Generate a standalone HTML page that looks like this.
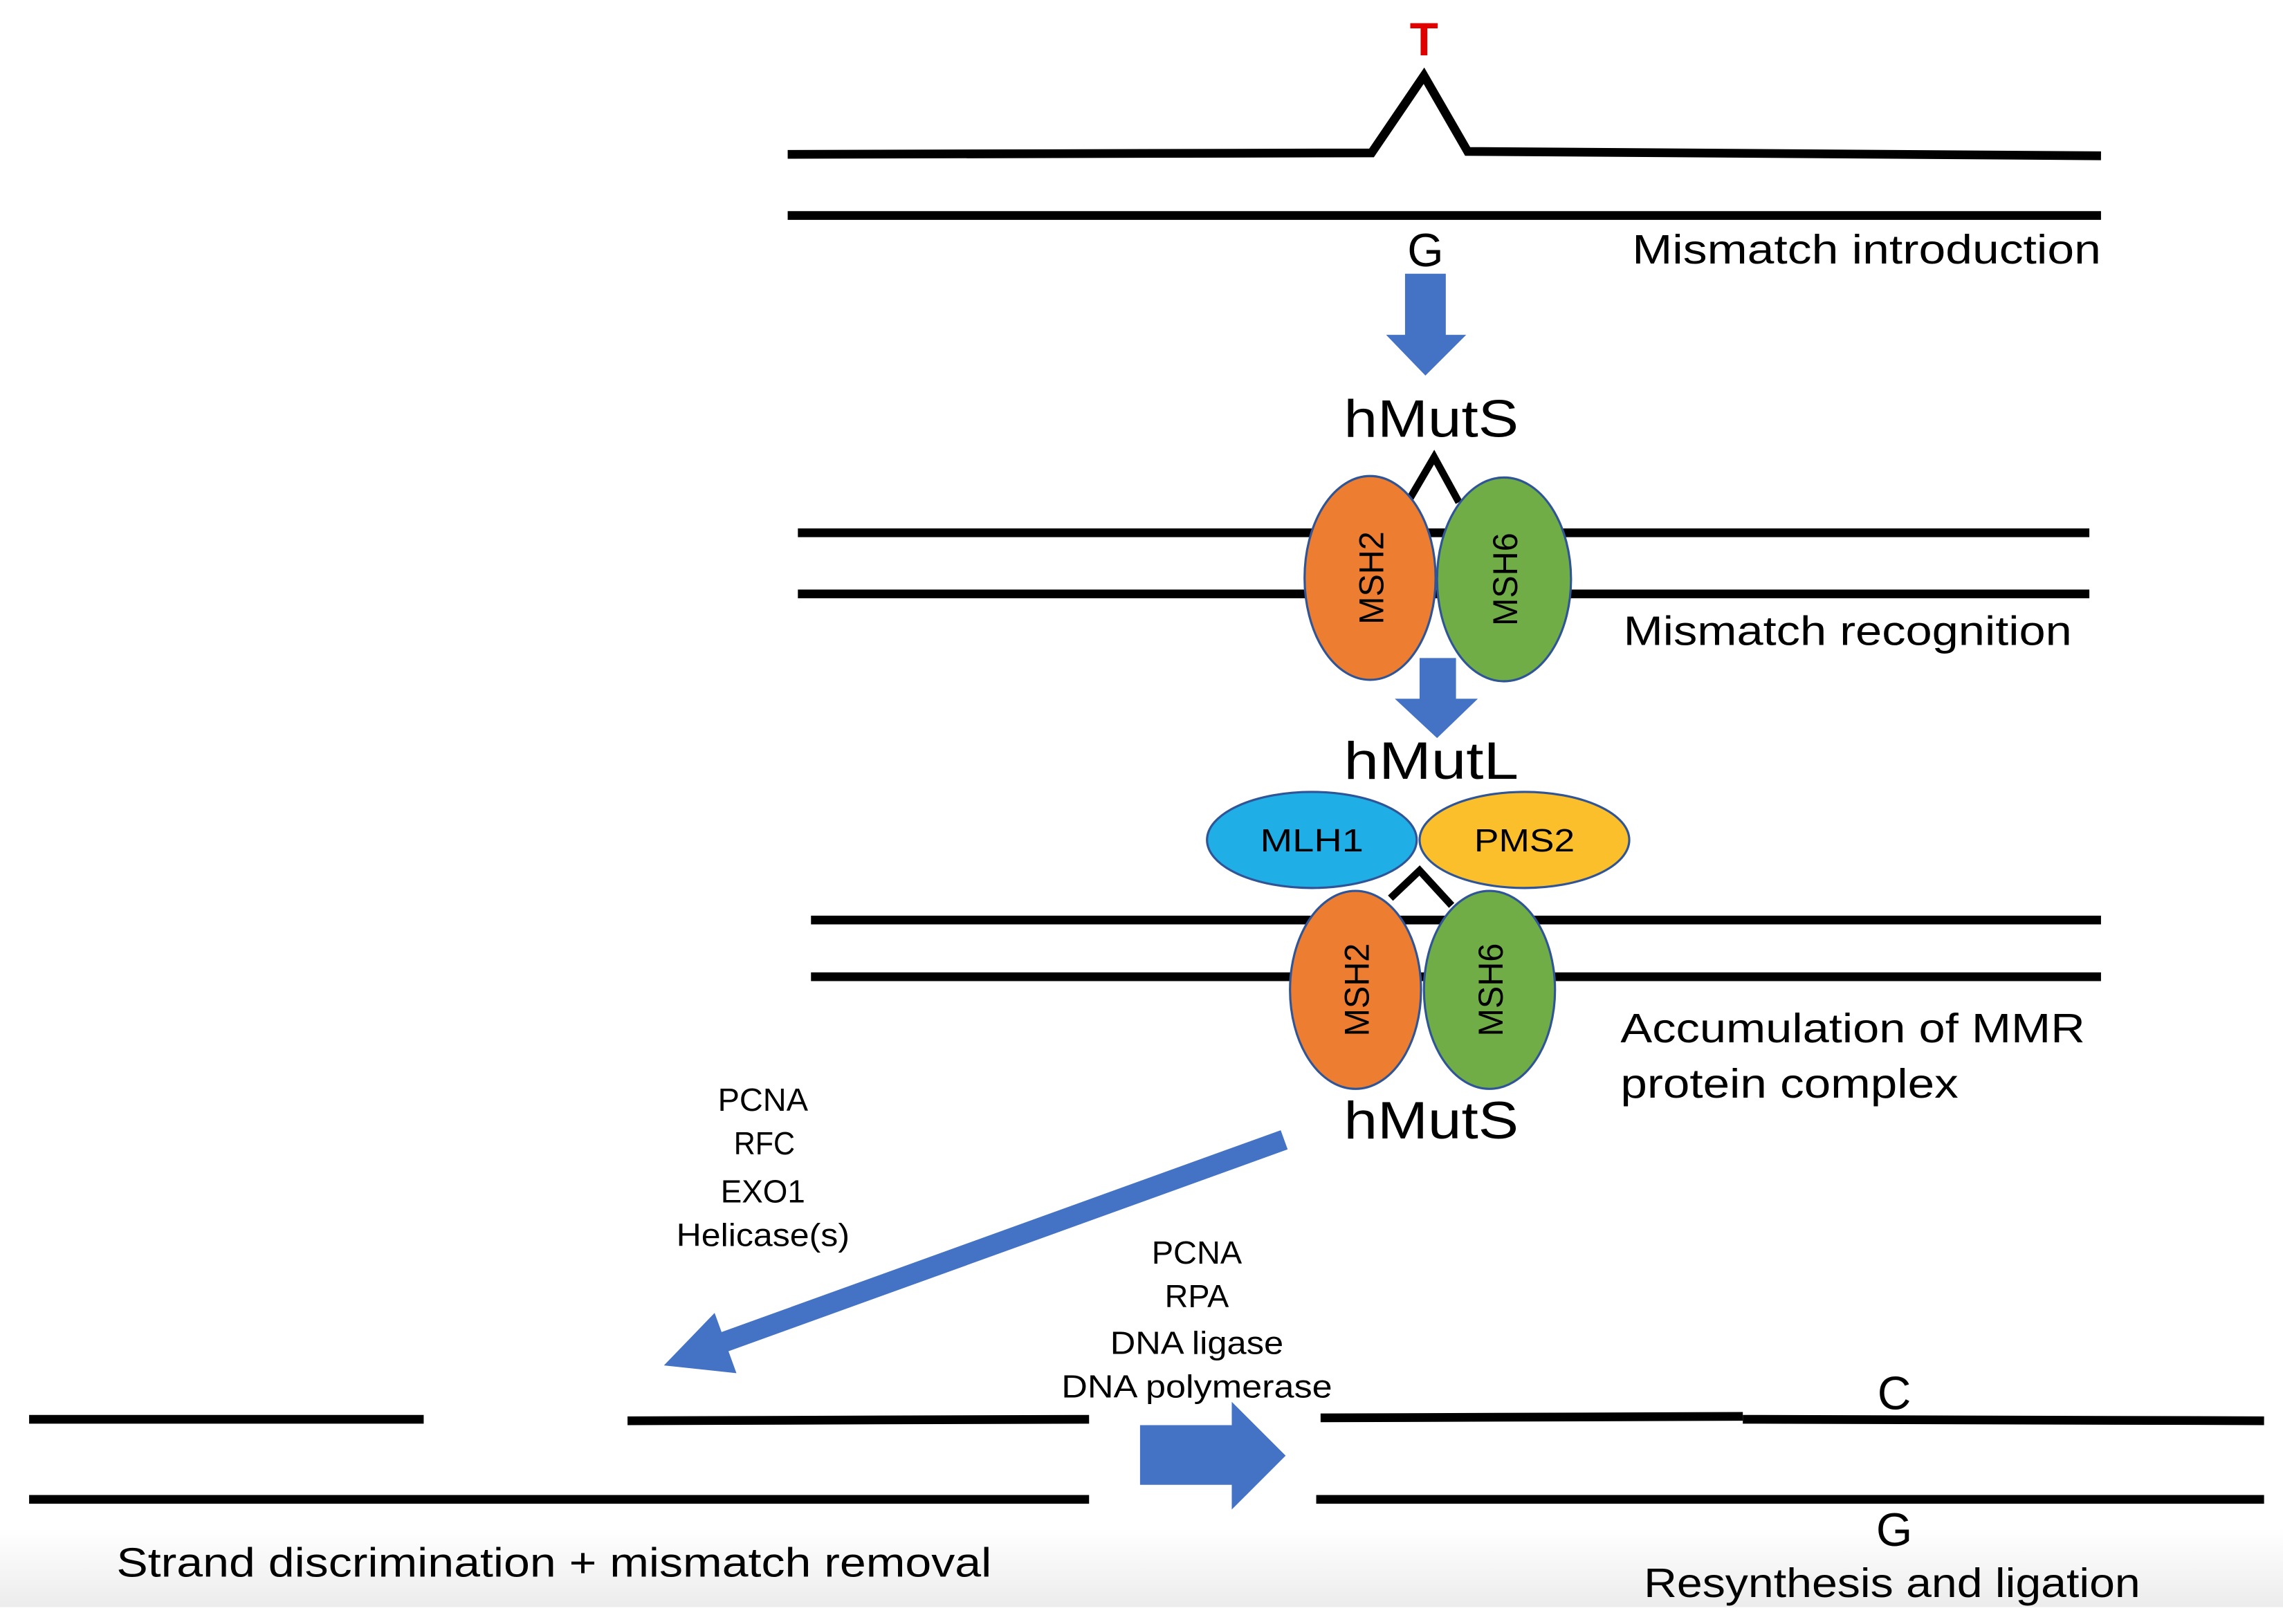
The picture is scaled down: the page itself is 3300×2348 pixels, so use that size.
<!DOCTYPE html>
<html><head><meta charset="utf-8"><style>html,body{margin:0;padding:0;background:#fff}svg{display:block}</style></head>
<body>
<svg width="3300" height="2348" viewBox="0 0 1568 1115.6" xmlns="http://www.w3.org/2000/svg" font-family="Liberation Sans, sans-serif">
<defs><linearGradient id="g" x1="0" y1="0" x2="0" y2="1"><stop offset="0" stop-color="#fff"/><stop offset="1" stop-color="#ececec"/></linearGradient></defs>
<rect width="1568" height="1115.6" fill="#fff"/>
<rect x="0" y="1050" width="1568" height="54" fill="url(#g)"/>
<g stroke="#000" stroke-width="6" fill="none">
<polyline points="541,106 942,105 978,52 1008,104 1443,107"/>
<line x1="541" y1="148" x2="1443" y2="148"/>
<polyline points="968,343 985,314 1002,345" stroke-width="5"/>
<line x1="548" y1="366" x2="1435" y2="366"/>
<line x1="548" y1="408" x2="1435" y2="408"/>
<polyline points="955,617 975,598 997,622" stroke-width="5"/>
<line x1="557" y1="632" x2="1443" y2="632"/>
<line x1="557" y1="671" x2="1443" y2="671"/>
<line x1="20" y1="975" x2="291" y2="975"/>
<line x1="431" y1="976" x2="748" y2="975"/>
<line x1="20" y1="1030" x2="748" y2="1030"/>
<line x1="907" y1="974" x2="1197" y2="973"/>
<line x1="1197" y1="975" x2="1555" y2="976"/>
<line x1="904" y1="1030" x2="1555" y2="1030"/>
</g>
<g fill="#4472C4">
<polygon points="965,188 993,188 993,230 1007,230 979,258 952,230 965,230"/>
<polygon points="975,452 1000,452 1000,480 1015,480 987,507 958,480 975,480"/>
<polygon points="783,979 846,979 846,963 883,1000 846,1037 846,1020 783,1020"/>
<polygon points="490.8,901.9 456,938 505.8,943.3"/>
</g>
<line x1="882" y1="783" x2="497" y2="922" stroke="#4472C4" stroke-width="14"/>
<g stroke="#2F5597" stroke-width="1.5">
<ellipse cx="941" cy="397" rx="45" ry="70" fill="#ED7D31"/>
<ellipse cx="1033" cy="398" rx="46" ry="70" fill="#70AD47"/>
<ellipse cx="901" cy="577" rx="72" ry="33" fill="#1FAEE6"/>
<ellipse cx="1047" cy="577" rx="72" ry="33" fill="#FBBF2C"/>
<ellipse cx="931" cy="680" rx="45" ry="68" fill="#ED7D31"/>
<ellipse cx="1023" cy="680" rx="45" ry="68" fill="#70AD47"/>
</g>
<g fill="#000">
<text x="978" y="38" font-size="32" font-weight="bold" fill="#E00000" text-anchor="middle">T</text>
<text x="979" y="183" font-size="32" text-anchor="middle">G</text>
<text x="1121" y="181" font-size="28" textLength="322" lengthAdjust="spacingAndGlyphs">Mismatch introduction</text>
<text x="923" y="300" font-size="36" textLength="120" lengthAdjust="spacingAndGlyphs">hMutS</text>
<text transform="translate(950,397) rotate(-90)" font-size="24" text-anchor="middle" textLength="64" lengthAdjust="spacingAndGlyphs">MSH2</text>
<text transform="translate(1042,398) rotate(-90)" font-size="24" text-anchor="middle" textLength="64" lengthAdjust="spacingAndGlyphs">MSH6</text>
<text x="1115" y="443" font-size="28" textLength="308" lengthAdjust="spacingAndGlyphs">Mismatch recognition</text>
<text x="923" y="535" font-size="36" textLength="120" lengthAdjust="spacingAndGlyphs">hMutL</text>
<text x="901" y="585" font-size="22" text-anchor="middle" textLength="71" lengthAdjust="spacingAndGlyphs">MLH1</text>
<text x="1047" y="585" font-size="22" text-anchor="middle" textLength="69" lengthAdjust="spacingAndGlyphs">PMS2</text>
<text transform="translate(940,680) rotate(-90)" font-size="24" text-anchor="middle" textLength="64" lengthAdjust="spacingAndGlyphs">MSH2</text>
<text transform="translate(1032,680) rotate(-90)" font-size="24" text-anchor="middle" textLength="64" lengthAdjust="spacingAndGlyphs">MSH6</text>
<text x="1113" y="716" font-size="28" textLength="319" lengthAdjust="spacingAndGlyphs">Accumulation of MMR</text>
<text x="1113" y="754" font-size="28" textLength="232" lengthAdjust="spacingAndGlyphs">protein complex</text>
<text x="923" y="782" font-size="36" textLength="120" lengthAdjust="spacingAndGlyphs">hMutS</text>
<g font-size="22" text-anchor="middle">
<text x="524" y="763" textLength="62" lengthAdjust="spacingAndGlyphs">PCNA</text>
<text x="525" y="793" textLength="42" lengthAdjust="spacingAndGlyphs">RFC</text>
<text x="524" y="826" textLength="58" lengthAdjust="spacingAndGlyphs">EXO1</text>
<text x="524" y="856" textLength="119" lengthAdjust="spacingAndGlyphs">Helicase(s)</text>
<text x="822" y="868" textLength="62" lengthAdjust="spacingAndGlyphs">PCNA</text>
<text x="822" y="898" textLength="44" lengthAdjust="spacingAndGlyphs">RPA</text>
<text x="822" y="930" textLength="119" lengthAdjust="spacingAndGlyphs">DNA ligase</text>
<text x="822" y="960" textLength="186" lengthAdjust="spacingAndGlyphs">DNA polymerase</text>
</g>
<text x="1301" y="968" font-size="32" text-anchor="middle">C</text>
<text x="1301" y="1062" font-size="32" text-anchor="middle">G</text>
<text x="80" y="1083" font-size="28" textLength="601" lengthAdjust="spacingAndGlyphs">Strand discrimination + mismatch removal</text>
<text x="1129" y="1097" font-size="28" textLength="341" lengthAdjust="spacingAndGlyphs">Resynthesis and ligation</text>
</g>
</svg>
</body></html>
